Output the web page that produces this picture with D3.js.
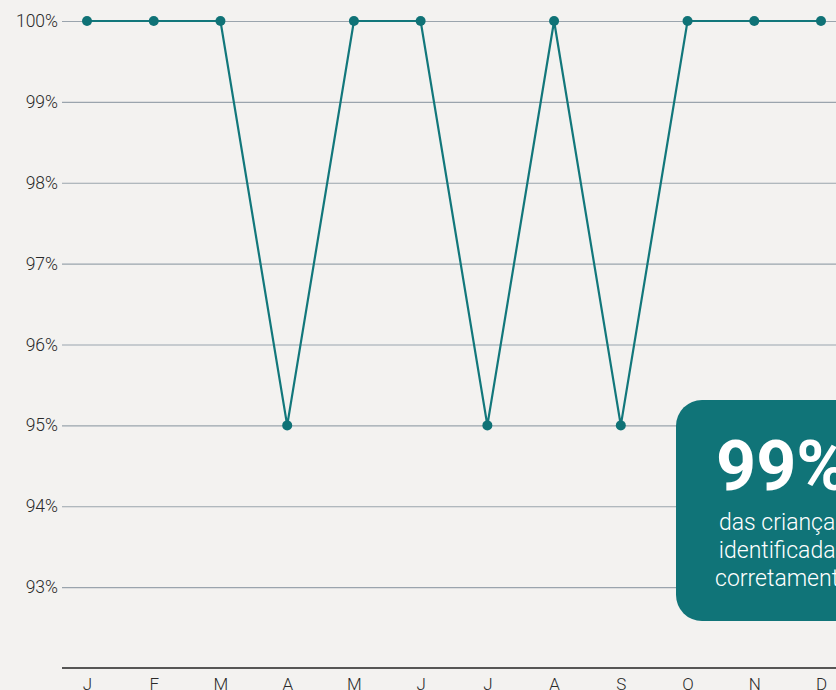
<!DOCTYPE html>
<html>
<head>
<meta charset="utf-8">
<script src="https://cdn.jsdelivr.net/npm/d3@7"></script>
<style>
  body { margin: 0; background: #f3f2f0; overflow: hidden; }
  svg { display: block; font-family: Roboto, sans-serif; }
</style>
</head>
<body>
<div id="chart"></div>
<script>
const months = ["J", "F", "M", "A", "M", "J", "J", "A", "S", "O", "N", "D"];
const values = [100, 100, 100, 95, 100, 100, 95, 100, 95, 100, 100, 100];
const yTicks = [93, 94, 95, 96, 97, 98, 99, 100];
const calloutValue = "99%";
const calloutLines = ["das crianças", "identificadas", "corretamente"];

const W = 836, H = 690;
const MARGIN = { TOP: 21, LEFT: 62 };
const BOTTOM = 668;

const svg = d3.select("#chart").append("svg")
  .attr("width", W)
  .attr("height", H);

svg.append("rect").attr("width", W).attr("height", H).attr("fill", "#f3f2f0");

// scales
const x = d3.scalePoint()
  .domain(d3.range(months.length))
  .range([MARGIN.LEFT, 846])
  .padding(0.375);

const y = d3.scaleLinear()
  .domain([92, 100])
  .range([BOTTOM, MARGIN.TOP]);

// grid + y labels
const yAxis = svg.append("g")
  .attr("transform", `translate(${MARGIN.LEFT},0)`)
  .call(d3.axisLeft(y).tickValues(yTicks).tickFormat(d => d + "%").tickSize(-(W - MARGIN.LEFT)).tickPadding(4));
yAxis.select(".domain").remove();
yAxis.selectAll(".tick line").attr("stroke", "#9aa4ad").attr("stroke-width", 1.2);
yAxis.selectAll(".tick text")
  .attr("fill", "#2a2a2a")
  .attr("font-size", 17.5)
  .attr("font-weight", 300)
  .attr("font-family", "Roboto, sans-serif");

// x axis
const xAxis = svg.append("g")
  .attr("transform", `translate(0,${BOTTOM})`)
  .call(d3.axisBottom(x).tickFormat(i => months[i]).tickSize(0).tickPadding(10));
xAxis.select(".domain").remove();
xAxis.append("line")
  .attr("x1", MARGIN.LEFT).attr("x2", W)
  .attr("stroke", "#222").attr("stroke-width", 1.5);
xAxis.selectAll(".tick text")
  .attr("fill", "#2a2a2a")
  .attr("font-size", 17)
  .attr("font-weight", 300)
  .attr("font-family", "Roboto, sans-serif");

// line
const line = d3.line()
  .x((d, i) => x(i))
  .y(d => y(d));

svg.append("path")
  .datum(values)
  .attr("fill", "none")
  .attr("stroke", "#12777b")
  .attr("stroke-width", 2.2)
  .attr("d", line);

svg.selectAll("circle.pt")
  .data(values)
  .enter().append("circle")
  .attr("class", "pt")
  .attr("cx", (d, i) => x(i))
  .attr("cy", d => y(d))
  .attr("r", 5)
  .attr("fill", "#0f7276");

// callout box
const box = svg.append("g").attr("transform", "translate(676,400)");
box.append("rect")
  .attr("width", 214).attr("height", 221)
  .attr("rx", 26)
  .attr("fill", "#107478");
box.append("text")
  .attr("x", 40).attr("y", 90)
  .attr("fill", "#fff")
  .attr("font-size", 70)
  .attr("font-weight", 700)
  .attr("font-family", "Roboto, sans-serif")
  .text(calloutValue);
box.selectAll("text.sub")
  .data(calloutLines)
  .enter().append("text")
  .attr("class", "sub")
  .attr("x", 107)
  .attr("y", (d, i) => 130 + i * 28)
  .attr("text-anchor", "middle")
  .attr("fill", "#fff")
  .attr("font-size", 23)
  .attr("font-weight", 300)
  .attr("font-family", "Roboto, sans-serif")
  .text(d => d);
</script>
</body>
</html>
